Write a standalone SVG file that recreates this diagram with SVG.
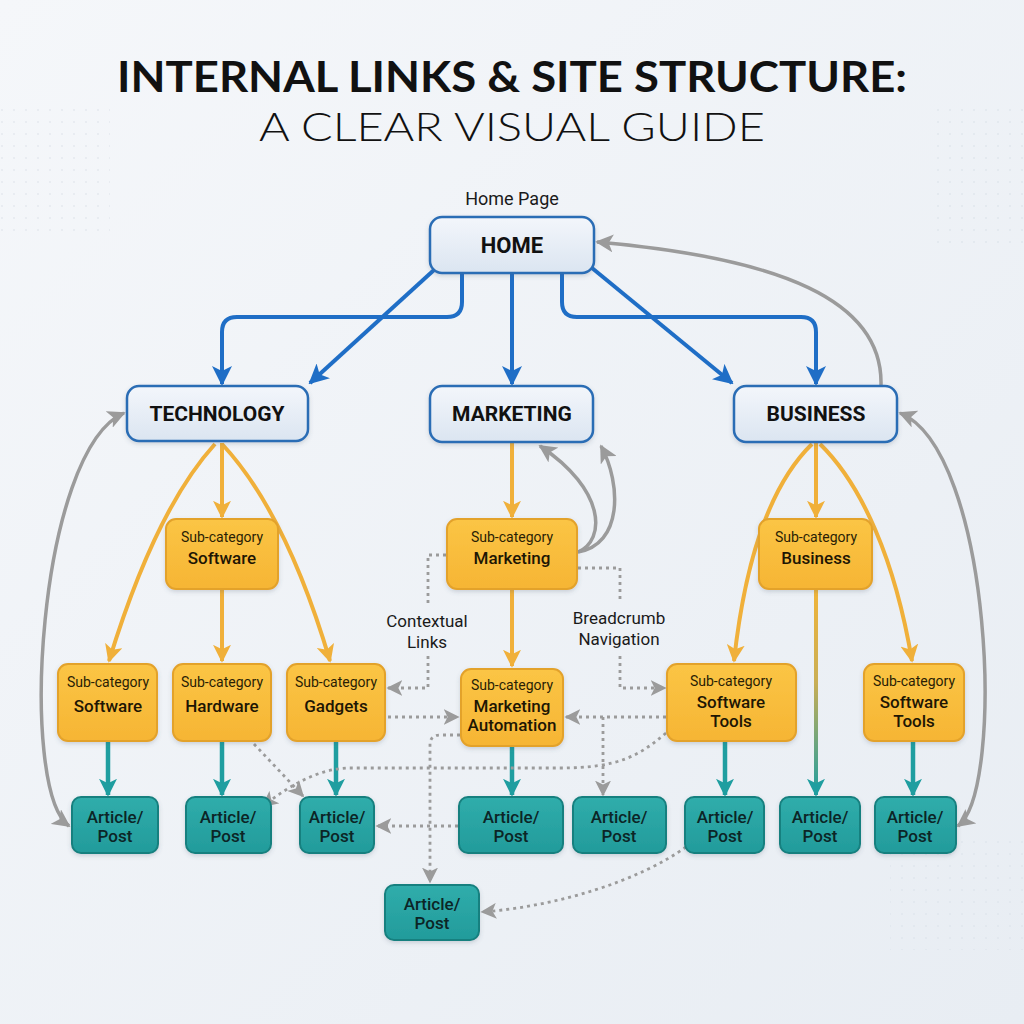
<svg xmlns="http://www.w3.org/2000/svg" width="1024" height="1024" viewBox="0 0 1024 1024">
<defs>
  <linearGradient id="bg" x1="0" y1="0" x2="1" y2="1">
    <stop offset="0" stop-color="#f5f7fa"/>
    <stop offset="1" stop-color="#e8edf3"/>
  </linearGradient>
  <linearGradient id="catFill" x1="0" y1="0" x2="0" y2="1">
    <stop offset="0" stop-color="#f3f6fb"/>
    <stop offset="1" stop-color="#dbe5f1"/>
  </linearGradient>
  <linearGradient id="subFill" x1="0" y1="0" x2="0" y2="1">
    <stop offset="0" stop-color="#fbc545"/>
    <stop offset="1" stop-color="#f6b534"/>
  </linearGradient>
  <linearGradient id="artFill" x1="0" y1="0" x2="0" y2="1">
    <stop offset="0" stop-color="#30adab"/>
    <stop offset="1" stop-color="#229b9b"/>
  </linearGradient>
  <linearGradient id="yt" gradientUnits="userSpaceOnUse" x1="0" y1="590" x2="0" y2="795">
    <stop offset="0" stop-color="#f0b43a"/>
    <stop offset="0.45" stop-color="#c9ae55"/>
    <stop offset="1" stop-color="#1f9ea0"/>
  </linearGradient>
  <filter id="sh" x="-20%" y="-20%" width="140%" height="150%">
    <feDropShadow dx="0" dy="2" stdDeviation="2" flood-color="#4a5a70" flood-opacity="0.22"/>
  </filter>
  <pattern id="dots" width="12" height="12" patternUnits="userSpaceOnUse">
    <circle cx="2" cy="2" r="1" fill="#c9d2dc"/>
  </pattern>
  <marker id="aBlue" viewBox="0 0 10 10" refX="9" refY="5" markerWidth="20" markerHeight="20" markerUnits="userSpaceOnUse" orient="auto">
    <path d="M0,0 L10,5 L0,10 L2.5,5 z" fill="#1f6ec6"/>
  </marker>
  <marker id="aYel" viewBox="0 0 10 10" refX="9" refY="5" markerWidth="18" markerHeight="18" markerUnits="userSpaceOnUse" orient="auto">
    <path d="M0,0 L10,5 L0,10 L2.5,5 z" fill="#f0b03a"/>
  </marker>
  <marker id="aTeal" viewBox="0 0 10 10" refX="9" refY="5" markerWidth="18" markerHeight="18" markerUnits="userSpaceOnUse" orient="auto">
    <path d="M0,0 L10,5 L0,10 L2.5,5 z" fill="#1f9ea0"/>
  </marker>
  <marker id="aGray" viewBox="0 0 10 10" refX="9" refY="5" markerWidth="18" markerHeight="18" markerUnits="userSpaceOnUse" orient="auto-start-reverse">
    <path d="M0,0 L10,5 L0,10 L2.5,5 z" fill="#9b9b9b"/>
  </marker>
  <marker id="aDot" viewBox="0 0 10 10" refX="9" refY="5" markerWidth="16" markerHeight="16" markerUnits="userSpaceOnUse" orient="auto">
    <path d="M0,0 L10,5 L0,10 L2.5,5 z" fill="#9b9b9b"/>
  </marker>
</defs>
<style>
  .title1 { font-family: Lato, "Liberation Sans", sans-serif; font-weight: 700; font-size: 42px; fill: #111; }
  .title2 { font-family: Lato, "Liberation Sans", sans-serif; font-weight: 300; font-size: 40px; fill: #111; }
  .lbl { font-family: Roboto, "Liberation Sans", sans-serif; font-size: 18px; fill: #1a1a1a; }
  .cat { fill: url(#catFill); stroke: #2b6db5; stroke-width: 2.5; filter: url(#sh); }
  .catT { font-family: Roboto, "Liberation Sans", sans-serif; font-weight: 700; font-size: 21px; fill: #111; text-anchor: middle; }
  .sub { fill: url(#subFill); stroke: #e3a22c; stroke-width: 2; filter: url(#sh); }
  .subS { font-family: Roboto, "Liberation Sans", sans-serif; font-size: 14px; fill: #2a1e05; text-anchor: middle; }
  .subT { font-family: Roboto, "Liberation Sans", sans-serif; font-weight: 500; font-size: 17px; fill: #1e1604; text-anchor: middle; }
  .art { fill: url(#artFill); stroke: #17807f; stroke-width: 2; filter: url(#sh); }
  .artT { font-family: Roboto, "Liberation Sans", sans-serif; font-weight: 500; font-size: 17px; fill: #0c2526; text-anchor: middle; }
  .blue { fill: none; stroke: #1f6ec6; stroke-width: 4; marker-end: url(#aBlue); }
  .yel { fill: none; stroke: #f0b03a; stroke-width: 4; marker-end: url(#aYel); }
  .teal { fill: none; stroke: #1f9ea0; stroke-width: 4.5; marker-end: url(#aTeal); }
  .gray { fill: none; stroke: #9b9b9b; stroke-width: 3.5; marker-end: url(#aGray); }
  .dot { fill: none; stroke: #9b9b9b; stroke-width: 2.8; stroke-dasharray: 3 4; }
  .dotA { fill: none; stroke: #9b9b9b; stroke-width: 2.8; stroke-dasharray: 3 4; marker-end: url(#aDot); }
  .note { font-family: Roboto, "Liberation Sans", sans-serif; font-size: 17px; fill: #1a1a1a; text-anchor: middle; }
</style>

<rect x="0" y="0" width="1024" height="1024" fill="url(#bg)"/>
<rect x="0" y="100" width="110" height="140" fill="url(#dots)" opacity="0.35"/>
<rect x="930" y="100" width="94" height="150" fill="url(#dots)" opacity="0.35"/>
<rect x="890" y="840" width="134" height="110" fill="url(#dots)" opacity="0.3"/>

<g id="title">
  <text class="title1" x="512" y="92" text-anchor="middle" textLength="790" lengthAdjust="spacingAndGlyphs">INTERNAL LINKS &amp; SITE STRUCTURE:</text>
  <text class="title2" x="512" y="141" text-anchor="middle" textLength="506" lengthAdjust="spacingAndGlyphs">A CLEAR VISUAL GUIDE</text>
</g>

<g id="connectors">
  <!-- blue: home to categories -->
  <path class="blue" d="M462,274 V302 Q462,317 447,317 H237 Q222,317 222,332 V384"/>
  <path class="blue" d="M434,270 L310,383"/>
  <path class="blue" d="M512,274 V384"/>
  <path class="blue" d="M562,274 V302 Q562,317 577,317 H801 Q816,317 816,332 V384"/>
  <path class="blue" d="M592,268 L732,383"/>
  <!-- gray back links -->
  <path class="gray" d="M881,385 C883,300 780,258 597,242"/>
  <path class="gray" style="marker-start:url(#aGray)" d="M124,413 C38,450 18,790 69,826"/>
  <path class="gray" style="marker-start:url(#aGray)" d="M900,413 C992,450 1006,790 958,826"/>
  <path class="gray" d="M578,552 C606,540 606,490 540,446"/>
  <path class="gray" d="M578,552 C622,545 622,485 601,446"/>
  <!-- yellow -->
  <path class="yel" d="M222,443 V517"/>
  <path class="yel" d="M215,444 C175,488 140,560 109,661"/>
  <path class="yel" d="M222,444 C265,490 300,560 330,661"/>
  <path class="yel" d="M222,590 V661"/>
  <path class="yel" d="M512,443 V517"/>
  <path class="yel" d="M512,590 V666"/>
  <path class="yel" d="M816,443 V517"/>
  <path class="yel" d="M812,444 C770,485 745,560 734,661"/>
  <path class="yel" d="M820,444 C862,485 895,560 912,661"/>
  <!-- teal -->
  <path class="teal" d="M108,742 V795"/>
  <path class="teal" d="M222,742 V795"/>
  <path class="teal" d="M336,742 V795"/>
  <path class="teal" d="M512,747 V795"/>
  <path class="teal" d="M725,742 V795"/>
  <path class="teal" d="M913,742 V795"/>
  <path fill="none" stroke="url(#yt)" stroke-width="4" d="M816,590 V795" marker-end="url(#aTeal)"/>
  <!-- dotted contextual / breadcrumb -->
  <path class="dot" d="M446,555 H428 V603"/>
  <path class="dotA" d="M428,656 V688 H388"/>
  <path class="dot" d="M578,568 H620 V603"/>
  <path class="dotA" d="M620,656 V688 H665"/>
  <path class="dotA" d="M388,717 H458"/>
  <path class="dotA" d="M666,717 H566"/>
  <path class="dotA" d="M603,717 V795"/>
  <path class="dotA" d="M460,735 H440 Q430,735 430,745 V882"/>
  <path class="dotA" d="M666,733 C640,755 620,768 560,768 H350 C320,768 290,785 263,806"/>
  <path class="dotA" d="M254,744 L303,796"/>
  <path class="dotA" d="M458,826 H377"/>
  <path class="dotA" d="M686,847 C640,880 560,906 482,912"/>
</g>

<g id="labels">
  <text class="lbl" x="512" y="205" text-anchor="middle">Home Page</text>
  <text class="note" x="427" y="627">Contextual</text>
  <text class="note" x="427" y="648">Links</text>
  <text class="note" x="619" y="624">Breadcrumb</text>
  <text class="note" x="619" y="645">Navigation</text>
</g>

<g id="home">
  <rect class="cat" x="430" y="217" width="164" height="56" rx="12"/>
  <text class="catT" x="512" y="253" style="font-size:22px">HOME</text>
</g>
<g id="technology">
  <rect class="cat" x="127" y="386" width="181" height="55" rx="12"/>
  <text class="catT" x="217" y="421">TECHNOLOGY</text>
</g>
<g id="marketing">
  <rect class="cat" x="430" y="386" width="163" height="56" rx="12"/>
  <text class="catT" x="512" y="421">MARKETING</text>
</g>
<g id="business">
  <rect class="cat" x="734" y="386" width="163" height="56" rx="12"/>
  <text class="catT" x="816" y="421">BUSINESS</text>
</g>

<g id="sub-software-top">
  <rect class="sub" x="166" y="519" width="112" height="70" rx="10"/>
  <text class="subS" x="222" y="542">Sub-category</text>
  <text class="subT" x="222" y="564">Software</text>
</g>
<g id="sub-marketing">
  <rect class="sub" x="447" y="519" width="130" height="70" rx="10"/>
  <text class="subS" x="512" y="542">Sub-category</text>
  <text class="subT" x="512" y="564">Marketing</text>
</g>
<g id="sub-business">
  <rect class="sub" x="759" y="519" width="113" height="70" rx="10"/>
  <text class="subS" x="816" y="542">Sub-category</text>
  <text class="subT" x="816" y="564">Business</text>
</g>
<g id="sub-software">
  <rect class="sub" x="58" y="664" width="99" height="77" rx="10"/>
  <text class="subS" x="108" y="687">Sub-category</text>
  <text class="subT" x="108" y="712">Software</text>
</g>
<g id="sub-hardware">
  <rect class="sub" x="173" y="664" width="98" height="77" rx="10"/>
  <text class="subS" x="222" y="687">Sub-category</text>
  <text class="subT" x="222" y="712">Hardware</text>
</g>
<g id="sub-gadgets">
  <rect class="sub" x="287" y="664" width="98" height="77" rx="10"/>
  <text class="subS" x="336" y="687">Sub-category</text>
  <text class="subT" x="336" y="712">Gadgets</text>
</g>
<g id="sub-marketing-automation">
  <rect class="sub" x="461" y="669" width="102" height="77" rx="10"/>
  <text class="subS" x="512" y="690">Sub-category</text>
  <text class="subT" x="512" y="712">Marketing</text>
  <text class="subT" x="512" y="731">Automation</text>
</g>
<g id="sub-software-tools">
  <rect class="sub" x="667" y="664" width="129" height="77" rx="10"/>
  <text class="subS" x="731" y="686">Sub-category</text>
  <text class="subT" x="731" y="708">Software</text>
  <text class="subT" x="731" y="727">Tools</text>
</g>
<g id="sub-software-tools-2">
  <rect class="sub" x="864" y="664" width="100" height="77" rx="10"/>
  <text class="subS" x="914" y="686">Sub-category</text>
  <text class="subT" x="914" y="708">Software</text>
  <text class="subT" x="914" y="727">Tools</text>
</g>

<g id="article-1">
  <rect class="art" x="72" y="797" width="86" height="56" rx="9"/>
  <text class="artT" x="115" y="823">Article/</text>
  <text class="artT" x="115" y="842">Post</text>
</g>
<g id="article-2">
  <rect class="art" x="186" y="797" width="85" height="56" rx="9"/>
  <text class="artT" x="228" y="823">Article/</text>
  <text class="artT" x="228" y="842">Post</text>
</g>
<g id="article-3">
  <rect class="art" x="300" y="797" width="74" height="56" rx="9"/>
  <text class="artT" x="337" y="823">Article/</text>
  <text class="artT" x="337" y="842">Post</text>
</g>
<g id="article-4">
  <rect class="art" x="459" y="797" width="104" height="56" rx="9"/>
  <text class="artT" x="511" y="823">Article/</text>
  <text class="artT" x="511" y="842">Post</text>
</g>
<g id="article-5">
  <rect class="art" x="573" y="797" width="93" height="56" rx="9"/>
  <text class="artT" x="619" y="823">Article/</text>
  <text class="artT" x="619" y="842">Post</text>
</g>
<g id="article-6">
  <rect class="art" x="685" y="797" width="79" height="56" rx="9"/>
  <text class="artT" x="725" y="823">Article/</text>
  <text class="artT" x="725" y="842">Post</text>
</g>
<g id="article-7">
  <rect class="art" x="780" y="797" width="80" height="56" rx="9"/>
  <text class="artT" x="820" y="823">Article/</text>
  <text class="artT" x="820" y="842">Post</text>
</g>
<g id="article-8">
  <rect class="art" x="875" y="797" width="81" height="56" rx="9"/>
  <text class="artT" x="915" y="823">Article/</text>
  <text class="artT" x="915" y="842">Post</text>
</g>
<g id="article-9">
  <rect class="art" x="385" y="885" width="94" height="55" rx="9"/>
  <text class="artT" x="432" y="910">Article/</text>
  <text class="artT" x="432" y="929">Post</text>
</g>
</svg>
